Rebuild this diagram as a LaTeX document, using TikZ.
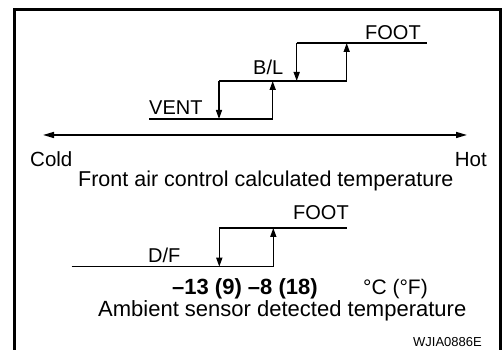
\documentclass[tikz,border=0pt]{standalone}
\usepackage{fontspec}
\setmainfont{Liberation Sans}
\usetikzlibrary{arrows.meta}
\begin{document}
\begin{tikzpicture}[x=1pt,y=1pt,
  lbl/.style={inner sep=0pt,font=\fontsize{20}{24}\selectfont},
  big/.style={inner sep=0pt,font=\fontsize{21.5}{25}\selectfont},
  code/.style={inner sep=0pt,font=\fontsize{13}{15}\selectfont},
  lvl/.style={line width=1.5pt},
  arr/.style={line width=1.5pt,-{Triangle[length=9pt,width=6pt]}},
  frame/.style={line width=3pt}]
\useasboundingbox (0,0) rectangle (504,350);
% frame
\coordinate (fbl) at (14.5,-2);
\coordinate (ftl) at (14.5,340.5);
\coordinate (ftr) at (500.5,340.5);
\coordinate (fbr) at (500.5,-2);
\draw[frame] (fbl) -- (ftl) -- (ftr) -- (fbr);
% top chart
\coordinate (v0) at (149,231);
\coordinate (v1) at (272.7,231);
\coordinate (b0) at (219,269);
\coordinate (b0d) at (219,231);
\coordinate (b1) at (346.7,269);
\coordinate (b1u) at (272.7,269);
\coordinate (f0) at (296.7,307);
\coordinate (f0d) at (296.7,269);
\coordinate (f1) at (427,307);
\coordinate (f1u) at (346.7,307);
\draw[lvl] (v0) -- (v1);
\draw[lvl] (b0) -- (b1);
\draw[lvl] (f0) -- (f1);
\draw[arr] (b0) -- (b0d);
\draw[arr] (v1) -- (b1u);
\draw[arr] (f0) -- (f0d);
\draw[arr] (b1) -- (f1u);
\node[lbl,anchor=base west] (vent) at (149,235) {VENT};
\node[lbl,anchor=base west] (bl) at (253,275) {B/L};
\node[lbl,anchor=base west] (foot1) at (365,310) {FOOT};
% temperature axis
\coordinate (ax0) at (43,215);
\coordinate (ax1) at (467,215);
\draw[line width=1.5pt,{Triangle[length=11pt,width=6pt]}-{Triangle[length=11pt,width=6pt]}] (ax0) -- (ax1);
\node[lbl,font=\fontsize{20.5}{24}\selectfont,anchor=base west] (cold) at (30,183) {Cold};
\node[lbl,font=\fontsize{20.5}{24}\selectfont,anchor=base east] (hot) at (487,183) {Hot};
\node[big,anchor=base west] (front) at (78,163) {Front air control calculated temperature};
% bottom chart
\coordinate (d0) at (71.7,83.3);
\coordinate (d1) at (273.3,83.3);
\coordinate (t0) at (219.3,122);
\coordinate (t0d) at (219.3,83.3);
\coordinate (t1) at (346.7,122);
\coordinate (t1u) at (273.3,122);
\draw[lvl] (d0) -- (d1);
\draw[lvl] (t0) -- (t1);
\draw[arr] (t0) -- (t0d);
\draw[arr] (d1) -- (t1u);
\node[lbl,anchor=base west] (foot2) at (293,130) {FOOT};
\node[lbl,anchor=base west] (df) at (148,87) {D/F};
\node[inner sep=0pt,anchor=base west,font=\fontsize{22}{25}\selectfont\bfseries] (nums) at (172,55) {–13 (9) –8 (18)};
\node[lbl,font=\fontsize{21}{25}\selectfont,anchor=base west] (unit) at (363,55) {°C (°F)};
\node[big,font=\fontsize{22}{25}\selectfont,anchor=base west] (amb) at (98,33.5) {Ambient sensor detected temperature};
\node[code,anchor=base east] (wj) at (482,3) {WJIA0886E};
\end{tikzpicture}
\end{document}
